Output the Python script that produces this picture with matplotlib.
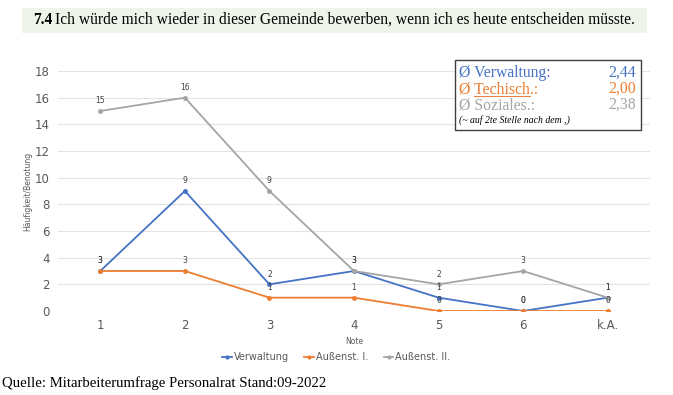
#!/usr/bin/env python3
"""Rebuild of the Mitarbeiterumfrage chart 7.4 (line chart, grades per department)."""
import matplotlib

matplotlib.use("Agg")
import matplotlib.pyplot as plt
from matplotlib.patches import Rectangle

CATEGORIES = ["1", "2", "3", "4", "5", "6", "k.A."]
VERWALTUNG = [3, 9, 2, 3, 1, 0, 1]
AUSSEN_1 = [3, 3, 1, 1, 0, 0, 0]
AUSSEN_2 = [15, 16, 9, 3, 2, 3, 1]
SERIES_NAMES = ["Verwaltung", "Außenst. I.", "Außenst. II."]

AVG_LABELS = ["Verwaltung:", "Techisch.:", "Soziales.:"]
AVG_VALUES = ["2,44", "2,00", "2,38"]

BLUE = "#4472C4"
ORANGE = "#ED7D31"
GRAY = "#A5A5A5"
TXT = "#595959"
SERIF = "Liberation Serif"

fig = plt.figure(figsize=(6.73, 3.95), dpi=100)
ax = fig.add_axes([58 / 673, 84 / 395, 592 / 673, 240 / 395])

x = list(range(len(CATEGORIES)))
for values, color, name in zip((VERWALTUNG, AUSSEN_1, AUSSEN_2), (BLUE, ORANGE, GRAY), SERIES_NAMES):
    ax.plot(x, values, color=color, linewidth=1.3, marker="o", markersize=2.5, label=name)
    for xi, v in zip(x, values):
        ax.annotate(str(v), (xi, v), xytext=(0, 4), textcoords="offset points",
                    ha="center", va="bottom", fontsize=5.5, color="#404040")

ax.set_xlim(-0.5, 6.5)
ax.set_ylim(0, 18)
ax.set_yticks(range(0, 19, 2))
ax.set_xticks(x)
ax.set_xticklabels(CATEGORIES)
ax.tick_params(length=0, labelsize=8.5, colors=TXT, pad=6)
ax.grid(axis="y", color="#E3E3E3", linewidth=0.8)
ax.set_axisbelow(True)
for spine in ax.spines.values():
    spine.set_visible(False)
ax.set_xlabel("Note", fontsize=5.5, color=TXT, labelpad=3)
ax.set_ylabel("Häufigkeit/Benotung", fontsize=5.5, color=TXT, labelpad=2)

ax.legend(loc="upper center", bbox_to_anchor=(0.47, -0.135), ncol=3, frameon=False,
          fontsize=7, handlelength=1.0, handletextpad=0.2, columnspacing=1.6,
          labelcolor=TXT, markerscale=0.8)

# average box (top right)
fig.patches.append(Rectangle((455 / 673, 1 - 130 / 395), 186 / 673, 70 / 395,
                             transform=fig.transFigure, facecolor="white",
                             edgecolor="#404040", linewidth=1.0))
for i, (lab, val, col) in enumerate(zip(AVG_LABELS, AVG_VALUES, (BLUE, ORANGE, GRAY))):
    yy = 1 - (73 + i * 16) / 395
    fig.text(459 / 673, yy, "Ø " + lab, fontsize=11.3, color=col, family=SERIF, va="center")
    fig.text(636 / 673, yy, val, fontsize=11.3, color=col, family=SERIF, va="center", ha="right")
fig.text(459 / 673, 1 - 120 / 395, "(~ auf 2te Stelle nach dem ,)", fontsize=7,
         style="italic", family=SERIF, color="#000000", va="center")

# underline "Techisch"
fig.canvas.draw()
r = fig.canvas.get_renderer()
t_pre = fig.text(459 / 673, 0, "Ø ", fontsize=11.3, family=SERIF)
t_word = fig.text(459 / 673, 0, "Ø Techisch", fontsize=11.3, family=SERIF)
x0 = t_pre.get_window_extent(r).x1 / fig.bbox.width
x1 = t_word.get_window_extent(r).x1 / fig.bbox.width
t_pre.remove()
t_word.remove()
uy = 1 - 96 / 395
fig.add_artist(plt.Line2D([x0, x1], [uy, uy], transform=fig.transFigure, color=ORANGE, linewidth=0.7))

# title strip
fig.patches.append(Rectangle((22 / 673, 1 - 33 / 395), 625 / 673, 25 / 395,
                             transform=fig.transFigure, facecolor="#EEF4EA", edgecolor="none"))
t1 = fig.text(33 / 673, 1 - 20 / 395, "7.4", fontsize=11.2, weight="bold", family=SERIF, va="center")
fig.canvas.draw()
tx = t1.get_window_extent(fig.canvas.get_renderer()).x1 / fig.bbox.width
fig.text(tx + 3 / 673, 1 - 20 / 395,
         "Ich würde mich wieder in dieser Gemeinde bewerben, wenn ich es heute entscheiden müsste.",
         fontsize=11.2, family=SERIF, va="center")

fig.text(2 / 673, 1 - 383 / 395, "Quelle: Mitarbeiterumfrage Personalrat Stand:09-2022",
         fontsize=10.6, family=SERIF, va="center")

fig.savefig("out.png", dpi=100)
